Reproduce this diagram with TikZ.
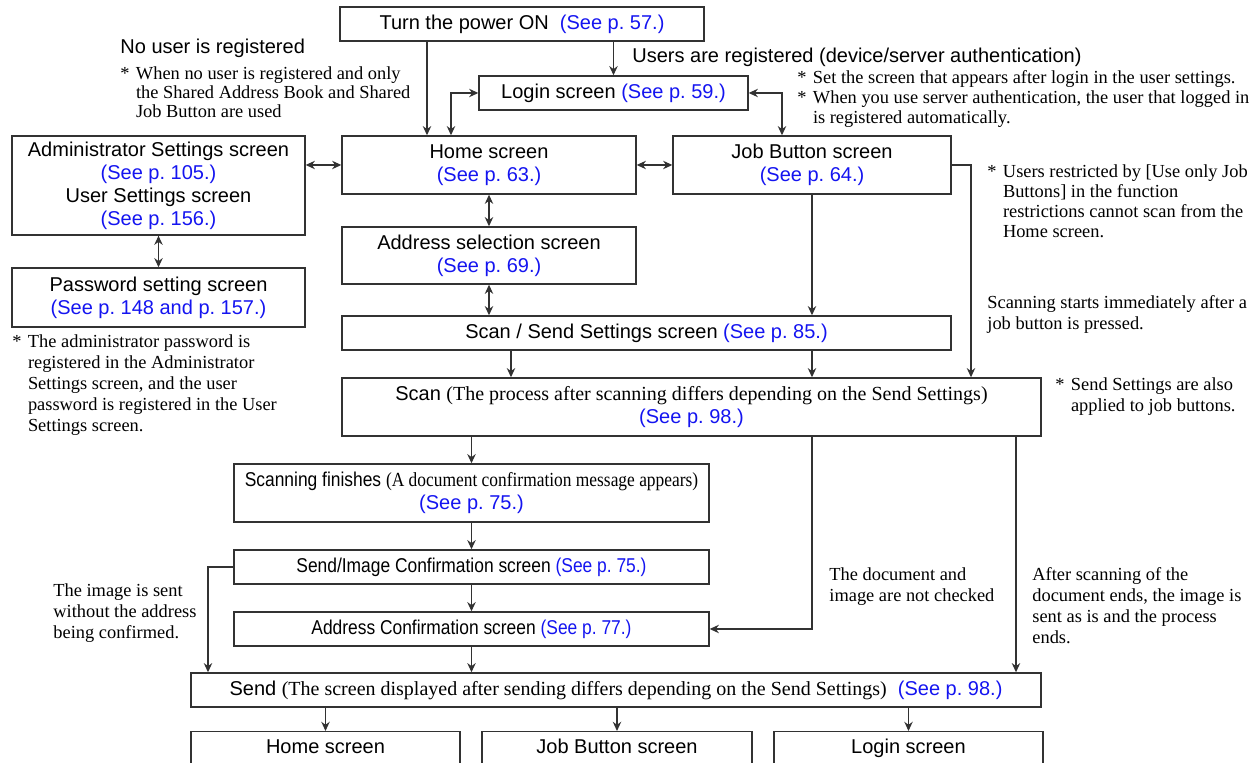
\documentclass[tikz,border=0pt]{standalone}
\usepackage{fontspec}
\setmainfont{Liberation Serif}
\setsansfont{Liberation Sans}
\usepackage{graphicx}
\usepackage{xcolor}
\usepackage{tikz}
\usetikzlibrary{arrows.meta}
\definecolor{refblue}{RGB}{20,20,240}
\definecolor{linegray}{RGB}{50,50,50}
\newcommand{\seep}[1]{\textcolor{refblue}{(See p.~#1.)}}
\newcommand{\nstar}{\makebox[7.8pt][l]{*}}
\newcommand{\nind}{\hspace*{7.8pt}}
\newcommand{\condensed}[1]{\scalebox{0.87}[1]{#1}}
\tikzset{screen/.style={draw=linegray,line width=0.7pt,align=center,inner sep=1pt,
    font=\sffamily\fontsize{10}{11.5}\selectfont},
  endscreen/.style={draw=linegray,line width=0.7pt,anchor=north,inner ysep=3.5pt,
    text height=7.5pt,text depth=20pt,font=\sffamily\fontsize{10}{11.5}\selectfont},
  note/.style={align=left,inner sep=0pt,anchor=north west,
    font=\fontsize{9.2}{10.5}\selectfont},
  head/.style={inner sep=0pt,anchor=base west,font=\sffamily\fontsize{10}{12}\selectfont},
  arr/.style={-{Stealth[length=4.6pt,width=4.2pt]},line width=0.6pt,draw=linegray},
  arrboth/.style={{Stealth[length=4.6pt,width=4.2pt]}-{Stealth[length=4.6pt,width=4.2pt]},
    line width=0.6pt,draw=linegray}}

\begin{document}
\begin{tikzpicture}[x=0.5pt,y=-0.5pt]
    \useasboundingbox (0,0) rectangle (1255,763);

    % Screens
    \node[screen,minimum width=182pt,minimum height=17pt] (power) at (522,24) {Turn the power ON\ \ \seep{57}};
    \node[screen,minimum width=134.5pt,minimum height=17pt] (login) at (613.5,93) {Login screen \seep{59}};
    \node[screen,minimum width=147pt,minimum height=29pt] (home) at (489,165) {Home screen\\\seep{63}};
    \node[screen,minimum width=139pt,minimum height=29pt] (jobbtn) at (812,165) {Job Button screen\\\seep{64}};
    \node[screen,minimum width=146.5pt,minimum height=49.5pt] (admin) at (158.5,185.5)
        {Administrator Settings screen\\\seep{105}\\User Settings screen\\\seep{156}};
    \node[screen,minimum width=146.5pt,minimum height=29.5pt] (pwd) at (158.5,297.5)
        {Password setting screen\\\textcolor{refblue}{(See p.~148 and p.~157.)}};
    \node[screen,minimum width=147pt,minimum height=28.5pt] (addrsel) at (489,255.5) {Address selection screen\\\seep{69}};
    \node[screen,minimum width=304.5pt,minimum height=17pt] (scanset) at (646.5,333) {Scan / Send Settings screen \seep{85}};
    \node[screen,minimum width=349.5pt,minimum height=29pt] (scan) at (691.5,407)
        {Scan \textrm{(The process after scanning differs depending on the Send Settings)}\\\seep{98}};
    \node[screen,minimum width=237.5pt,minimum height=29pt] (finish) at (471.5,493)
        {\condensed{Scanning finishes \textrm{(A document confirmation message appears)}}\\\seep{75}};
    \node[screen,minimum width=237.5pt,minimum height=17pt] (sendimg) at (471.5,567)
        {\condensed{Send/Image Confirmation screen \seep{75}}};
    \node[screen,minimum width=237.5pt,minimum height=17pt] (addrconf) at (471.5,629)
        {\condensed{Address Confirmation screen \seep{77}}};
    \node[screen,minimum width=425pt,minimum height=17pt] (send) at (616,690)
        {Send \textrm{(The screen displayed after sending differs depending on the Send Settings)}\ \ \seep{98}};
    \node[endscreen,minimum width=134.5pt] (endhome) at (325.5,731) {Home screen};
    \node[endscreen,minimum width=135pt] (endjob) at (617,731) {Job Button screen};
    \node[endscreen,minimum width=134.5pt] (endlogin) at (908.5,731) {Login screen};

    % Notes
    \node[head] (nouser) at (120,54) {No user is registered};
    \node[note,font=\fontsize{9.2}{9.6}\selectfont] (nousernote) at (120,66)
        {\nstar When no user is registered and only\\\nind the Shared Address Book and Shared\\\nind Job Button are used};
    \node[head] (usersreg) at (632,63) {Users are registered (device/server authentication)};
    \node[note,font=\fontsize{9.2}{10}\selectfont] (loginnote) at (797,70)
        {\nstar Set the screen that appears after login in the user settings.\\
         \nstar When you use server authentication, the user that logged in\\\nind is registered automatically.};
    \node[note,font=\fontsize{9.2}{10}\selectfont] (jobnote) at (987,164)
        {\nstar Users restricted by [Use only Job\\\nind Buttons] in the function\\
         \nind restrictions cannot scan from the\\\nind Home screen.};
    \node[note] (startnote) at (987,295) {Scanning starts immediately after a\\job button is pressed.};
    \node[note] (sendsetnote) at (1055,377) {\nstar Send Settings are also\\\nind applied to job buttons.};
    \node[note] (pwdnote) at (12,334)
        {\nstar The administrator password is\\\nind registered in the Administrator\\
         \nind Settings screen, and the user\\\nind password is registered in the User\\\nind Settings screen.};
    \node[note] (skipnote) at (53,583) {The image is sent\\without the address\\being confirmed.};
    \node[note] (nocheck) at (829,567) {The document and\\image are not checked};
    \node[note] (directnote) at (1032,567)
        {After scanning of the\\document ends, the image is\\sent as is and the process\\ends.};

    % Power on and login
    \draw[arr] (power.south -| 427,0) -- (home.north -| 427,0);
    \draw[arr] (power.south -| login.north) -- (login.north);
    \draw[arrboth] (login.west) -| (home.north -| 451,0);
    \draw[arrboth] (login.east) -| (jobbtn.north -| 782,0);

    % Between screens
    \draw[arrboth] (home.east) -- (jobbtn.west);
    \draw[arrboth] (admin.east |- home.west) -- (home.west);
    \draw[arrboth] (admin.south) -- (pwd.north);
    \draw[arrboth] (home.south) -- (addrsel.north);
    \draw[arrboth] (addrsel.south) -- (scanset.north -| addrsel.south);

    % To scanning
    \draw[arr] (jobbtn.south) -- (scanset.north -| jobbtn.south);
    \draw[arr] (jobbtn.east) -| (scan.north -| 971,0);
    \draw[arr] (scanset.south -| 511,0) -- (scan.north -| 511,0);
    \draw[arr] (scanset.south -| jobbtn.south) -- (scan.north -| jobbtn.south);

    % After scanning
    \draw[arr] (scan.south -| finish.north) -- (finish.north);
    \draw[arr] (finish.south) -- (sendimg.north);
    \draw[arr] (sendimg.south) -- (addrconf.north);
    \draw[arr] (addrconf.south) -- (send.north -| addrconf.south);
    \draw[arr] (sendimg.west) -| (send.north -| 208,0);
    \draw[arr] (scan.south -| jobbtn.south) |- (addrconf.east);
    \draw[arr] (scan.south -| 1016,0) -- (send.north -| 1016,0);

    % After sending
    \foreach \n in {endhome,endjob,endlogin}
        \draw[arr] (send.south -| \n.north) -- (\n.north);
\end{tikzpicture}
\end{document}
